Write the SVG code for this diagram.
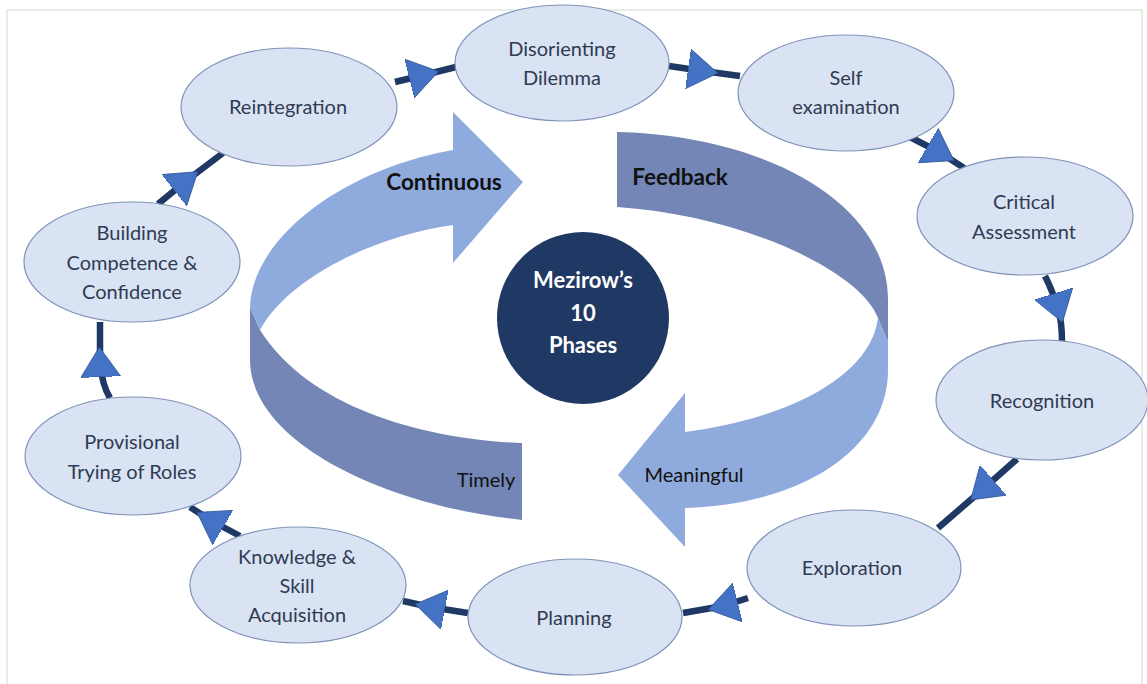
<svg xmlns="http://www.w3.org/2000/svg" width="1147" height="684" viewBox="0 0 1147 684">
  <defs>
    <style>
      .node ellipse { fill: #dae3f3; stroke: #7f93b9; stroke-width: 1.2; }
      .node text { font-family: Lato, "Open Sans", sans-serif; font-size: 20px; fill: #2f3b52; text-anchor: middle; }
      .conn { fill: none; stroke: #1f3864; stroke-width: 6.5; marker-mid: url(#tri); }
      .lbl { font-family: Lato, "Open Sans", sans-serif; font-size: 20px; fill: #111111; text-anchor: middle; }
      .lbl.b { font-weight: bold; font-size: 22.5px; }
      .hub text { font-family: Lato, "Open Sans", sans-serif; font-size: 22px; font-weight: bold; fill: #ffffff; text-anchor: middle; }
    </style>
    <marker id="tri" viewBox="0 0 30 40" markerWidth="30" markerHeight="40" refX="15" refY="20" orient="auto" markerUnits="userSpaceOnUse">
      <path d="M0,0 L30,20 L0,40 Z" fill="#4472c4" stroke="#2f5597" stroke-width="0.8"/>
    </marker>
  </defs>
  <rect x="0" y="0" width="1147" height="684" fill="#ffffff"/>
  <rect x="7" y="10" width="1135" height="690" fill="none" stroke="#dde7de" stroke-width="1.5"/>

  <g id="ribbon-left">
    <path d="M250,307 L260,330 C310,410 430,440 522,443 L522,520 C380,505 250,440 250,360 Z" fill="#7386b5"/>
    <path d="M453,150 L453,112 L523,182 L453,263 L453,225 C380,235 290,275 260,330 L250,307 C252,240 340,170 453,150 Z" fill="#8faadc"/>
    <text class="lbl b" x="444" y="190">Continuous</text>
    <text class="lbl" x="486" y="487">Timely</text>
  </g>
  <g id="ribbon-right">
    <path d="M617,132 C760,135 888,200 888,300 L888,342 L878,318 C860,270 740,215 617,207 Z" fill="#7386b5"/>
    <path d="M878,318 C870,380 780,420 685,432 L685,393 L618,475 L685,547 L685,508 C800,505 888,450 888,370 L888,342 Z" fill="#8faadc"/>
    <text class="lbl b" x="680" y="185">Feedback</text>
    <text class="lbl" x="694" y="482">Meaningful</text>
  </g>

  <g id="connectors">
    <path class="conn" d="M395,82 L424,75 L456,67"/>
    <path class="conn" d="M669,66 L703,71 L740,76"/>
    <path class="conn" d="M908,136 L941,153 L964,168"/>
    <path class="conn" d="M1045,276 Q1052,290 1058,308 Q1062,322 1062,342"/>
    <path class="conn" d="M1017,459 L982,490 L938,528"/>
    <path class="conn" d="M748,598 L723,606 L683,613"/>
    <path class="conn" d="M468,613 L430,607 L403,601"/>
    <path class="conn" d="M240,536 L210,520 L190,507"/>
    <path class="conn" d="M110,398 Q102,385 100,362 L100,322"/>
    <path class="conn" d="M158,204 L186,181 L223,153"/>
  </g>

  <g id="hub" class="hub">
    <circle cx="583" cy="318" r="86" fill="#203864"/>
    <text x="583" y="288">Mezirow’s</text>
    <text x="583" y="321">10</text>
    <text x="583" y="353">Phases</text>
  </g>

  <g id="n1" class="node"><ellipse cx="562" cy="63" rx="107" ry="58"/><text x="562" y="56">Disorienting</text><text x="562" y="85">Dilemma</text></g>
  <g id="n2" class="node"><ellipse cx="846" cy="93" rx="108" ry="58"/><text x="846" y="85">Self</text><text x="846" y="114">examination</text></g>
  <g id="n3" class="node"><ellipse cx="1025" cy="216" rx="108" ry="59"/><text x="1024" y="209">Critical</text><text x="1024" y="239">Assessment</text></g>
  <g id="n4" class="node"><ellipse cx="1042" cy="400" rx="106" ry="60"/><text x="1042" y="408">Recognition</text></g>
  <g id="n5" class="node"><ellipse cx="854" cy="568" rx="107" ry="58"/><text x="852" y="575">Exploration</text></g>
  <g id="n6" class="node"><ellipse cx="575" cy="617" rx="107" ry="58"/><text x="574" y="625">Planning</text></g>
  <g id="n7" class="node"><ellipse cx="298" cy="585" rx="108" ry="58"/><text x="297" y="564">Knowledge &amp;</text><text x="297" y="593">Skill</text><text x="297" y="622">Acquisition</text></g>
  <g id="n8" class="node"><ellipse cx="133" cy="456" rx="108" ry="59"/><text x="132" y="449">Provisional</text><text x="132" y="479">Trying of Roles</text></g>
  <g id="n9" class="node"><ellipse cx="132" cy="262" rx="108" ry="60"/><text x="132" y="240">Building</text><text x="132" y="270">Competence &amp;</text><text x="132" y="299">Confidence</text></g>
  <g id="n10" class="node"><ellipse cx="289" cy="107" rx="108" ry="59"/><text x="288" y="114">Reintegration</text></g>
</svg>
